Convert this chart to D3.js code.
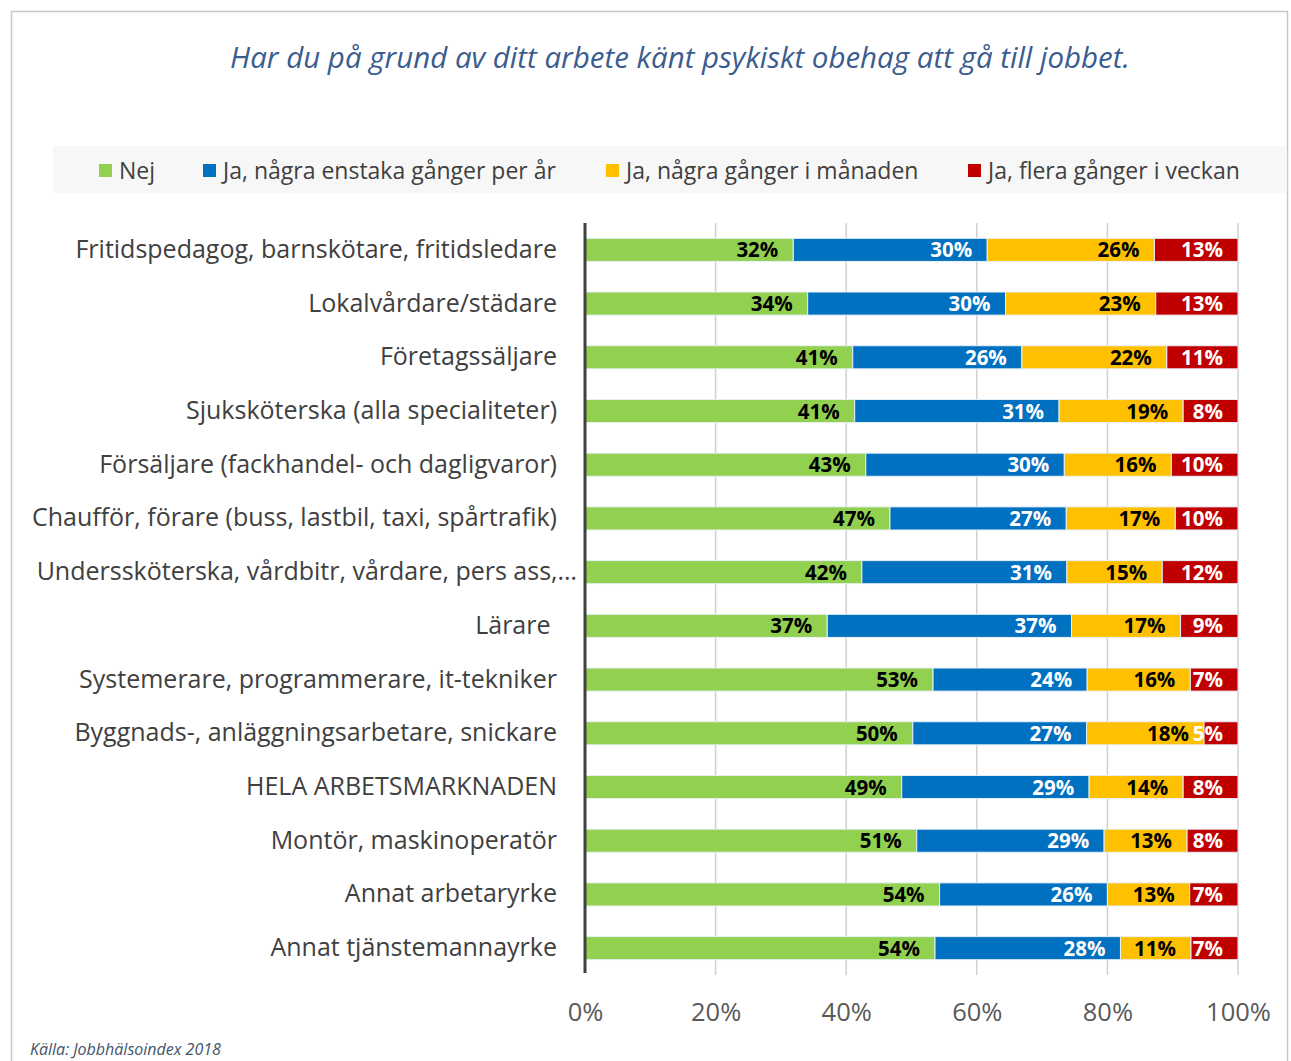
<!DOCTYPE html>
<html>
<head>
<meta charset="utf-8">
<script src="https://cdn.jsdelivr.net/npm/d3@7"></script>
<style>
  body { margin: 0; background: #fff; }
  svg text { font-family: "Open Sans", "DejaVu Sans", sans-serif; white-space: pre; }
</style>
</head>
<body>
<div id="chart"></div>
<script>
// categories, top to bottom
var categories = [
    "Fritidspedagog, barnskötare, fritidsledare",
    "Lokalvårdare/städare",
    "Företagssäljare",
    "Sjuksköterska (alla specialiteter)",
    "Försäljare (fackhandel- och dagligvaror)",
    "Chaufför, förare (buss, lastbil, taxi, spårtrafik)",
    "Underssköterska, vårdbitr, vårdare, pers ass,…",
    "Lärare ",
    "Systemerare, programmerare, it-tekniker",
    "Byggnads-, anläggningsarbetare, snickare",
    "HELA ARBETSMARKNADEN",
    "Montör, maskinoperatör",
    "Annat arbetaryrke",
    "Annat tjänstemannayrke"
];

var seriesNames = ["Nej", "Ja, några enstaka gånger per år", "Ja, några gånger i månaden", "Ja, flera gånger i veckan"];
var seriesColors = ["#92d050", "#0070c0", "#ffc000", "#c00000"];
var labelColors = ["#000", "#fff", "#000", "#fff"];

// values in percent
var nej      = [31.9, 34.1, 41.0, 41.3, 43.0, 46.7, 42.4, 37.1, 53.3, 50.2, 48.5, 50.8, 54.3, 53.6];
var perAr    = [29.7, 30.3, 25.9, 31.3, 30.4, 27.0, 31.4, 37.4, 23.6, 26.6, 28.7, 28.7, 25.7, 28.4];
var manaden  = [25.6, 23.0, 22.2, 19.0, 16.4, 16.7, 14.6, 16.7, 15.8, 18.0, 14.4, 12.7, 12.6, 10.8];
var veckan   = [12.8, 12.6, 10.9, 8.4, 10.2, 9.6, 11.6, 8.8, 7.3, 5.2, 8.4, 7.8, 7.4, 7.2];

var xTicks = [0, 20, 40, 60, 80, 100];

var width = 1291, height = 1061;
var plotLeft = 585, plotRight = 1238, plotTop = 223, plotBottom = 975;

var svg = d3.select("#chart").append("svg")
    .attr("width", width)
    .attr("height", height);

// frame
svg.append("rect")
    .attr("x", 11.5).attr("y", 11.5)
    .attr("width", 1276).attr("height", 1060)
    .attr("fill", "#fff")
    .attr("stroke", "#c8c8c8")
    .attr("stroke-width", 1.5);

// title
svg.append("text")
    .attr("x", 680).attr("y", 68)
    .attr("text-anchor", "middle")
    .attr("font-size", 29.5)
    .attr("font-style", "italic")
    .attr("fill", "#3b5c8f")
    .text("Har du på grund av ditt arbete känt psykiskt obehag att gå till jobbet.");

// legend
svg.append("rect")
    .attr("x", 53).attr("y", 146)
    .attr("width", 1234).attr("height", 47)
    .attr("fill", "#f7f7f7");

var legendX = [99, 203, 606, 968];
var legend = svg.selectAll(".legend")
    .data(seriesNames)
    .enter().append("g")
    .attr("class", "legend")
    .attr("transform", function (d, i) { return "translate(" + legendX[i] + ",170)"; });

legend.append("rect")
    .attr("x", 0).attr("y", -6)
    .attr("width", 13).attr("height", 13)
    .attr("fill", function (d, i) { return seriesColors[i]; });

legend.append("text")
    .attr("x", 20).attr("y", 8.5)
    .attr("font-size", 23)
    .attr("fill", "#404040")
    .text(function (d) { return d; });

// scales
var x = d3.scaleLinear().domain([0, 100]).range([plotLeft, plotRight]);
var y = d3.scaleBand().domain(categories).range([plotTop, plotBottom]).paddingInner(0.57).paddingOuter(0.285);

// gridlines
svg.append("g")
    .selectAll("line")
    .data(xTicks.slice(1))
    .enter().append("line")
    .attr("x1", function (d) { return x(d); })
    .attr("x2", function (d) { return x(d); })
    .attr("y1", plotTop)
    .attr("y2", plotBottom)
    .attr("stroke", "#d0d0d0")
    .attr("stroke-width", 1.5);

// stacked data
var table = categories.map(function (c, i) {
    return { cat: c, v: [nej[i], perAr[i], manaden[i], veckan[i]] };
});
var segments = [];
table.forEach(function (row) {
    var acc = 0;
    row.v.forEach(function (v, s) {
        segments.push({ cat: row.cat, s: s, x0: acc, x1: acc + v, v: v });
        acc += v;
    });
});

svg.append("g")
    .selectAll("rect")
    .data(segments)
    .enter().append("rect")
    .attr("x", function (d) { return x(d.x0); })
    .attr("y", function (d) { return y(d.cat); })
    .attr("width", function (d) { return x(d.x1) - x(d.x0); })
    .attr("height", y.bandwidth())
    .attr("fill", function (d) { return seriesColors[d.s]; })
    .attr("stroke", "#e8f0f8")
    .attr("stroke-width", 1);

svg.append("g")
    .selectAll("text")
    .data(segments)
    .enter().append("text")
    .attr("x", function (d) { return x(d.x1) - 15; })
    .attr("y", function (d) { return y(d.cat) + y.bandwidth() / 2 + 7.5; })
    .attr("text-anchor", "end")
    .attr("font-size", 20.5)
    .attr("font-weight", "bold")
    .attr("fill", function (d) { return labelColors[d.s]; })
    .text(function (d) { return Math.round(d.v) + "%"; });

// category axis
var yAxis = d3.axisLeft(y).tickSize(0).tickPadding(28);
var gy = svg.append("g")
    .attr("transform", "translate(" + plotLeft + ",0)")
    .call(yAxis);
gy.select(".domain").remove();
gy.selectAll("text")
    .attr("font-size", 25)
    .attr("font-family", "'Open Sans', sans-serif")
    .attr("fill", "#404040")
    .attr("dx", function (d) { return d.slice(-1) === "…" ? 20 : 0; });

svg.append("line")
    .attr("x1", plotLeft).attr("x2", plotLeft)
    .attr("y1", plotTop).attr("y2", plotBottom - 2)
    .attr("stroke", "#404040")
    .attr("stroke-width", 3);

// x axis
var xAxis = d3.axisBottom(x).tickValues(xTicks).tickSize(0).tickPadding(28)
    .tickFormat(function (d) { return d + "%"; });
var gx = svg.append("g")
    .attr("transform", "translate(0," + plotBottom + ")")
    .call(xAxis);
gx.select(".domain").remove();
gx.selectAll("text")
    .attr("font-size", 25.5)
    .attr("font-family", "'Open Sans', sans-serif")
    .attr("fill", "#595959");

// source
svg.append("text")
    .attr("x", 30).attr("y", 1055)
    .attr("font-size", 16)
    .attr("font-style", "italic")
    .attr("fill", "#44546a")
    .text("Källa: Jobbhälsoindex 2018");
</script>
</body>
</html>
